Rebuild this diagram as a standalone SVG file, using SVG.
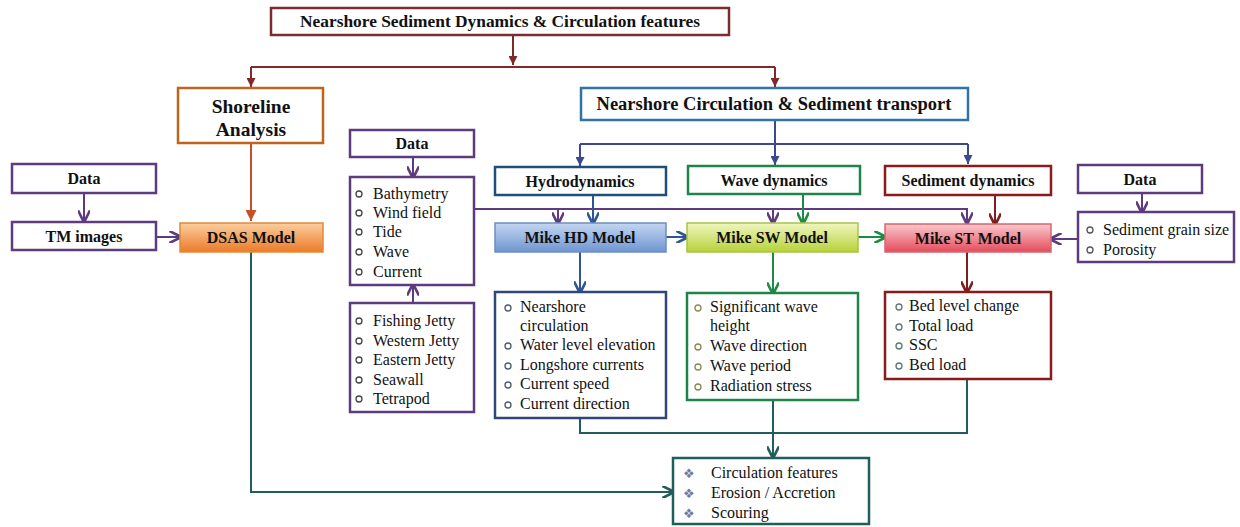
<svg xmlns="http://www.w3.org/2000/svg" width="1240" height="527" viewBox="0 0 1240 527">
<style>
.t{font-family:"Liberation Serif","Times New Roman",serif;font-weight:bold;font-size:16px;fill:#111;text-anchor:middle}
.li{font-family:"Liberation Serif","Times New Roman",serif;font-size:16px;fill:#111}
.b{fill:none;stroke-width:1.3}
.box{fill:#fff;stroke-width:2.5}
.c{fill:none;stroke-width:2}
.dia{font-family:"DejaVu Sans",sans-serif;font-size:13px;fill:#6A7BA8}
</style>
<defs>
<linearGradient id="gHD" x1="0" y1="0" x2="0" y2="1"><stop offset="0" stop-color="#C4D6F0"/><stop offset="1" stop-color="#6E96D2"/></linearGradient>
<linearGradient id="gSW" x1="0" y1="0" x2="0" y2="1"><stop offset="0" stop-color="#F0F6C0"/><stop offset="1" stop-color="#B6D23A"/></linearGradient>
<linearGradient id="gST" x1="0" y1="0" x2="0" y2="1"><stop offset="0" stop-color="#FBC8CC"/><stop offset="1" stop-color="#E44C5C"/></linearGradient>
<linearGradient id="gDS" x1="0" y1="0" x2="0" y2="1"><stop offset="0" stop-color="#FCCFA0"/><stop offset="1" stop-color="#EC7A28"/></linearGradient>
<marker id="aM" viewBox="0 0 10 10" refX="10" refY="5" markerWidth="9" markerHeight="9" markerUnits="userSpaceOnUse" orient="auto"><path d="M0,0L10,5L0,10z" fill="#7F2A2A"/></marker>
<marker id="aO" viewBox="0 0 10 10" refX="10" refY="5" markerWidth="11" markerHeight="11" markerUnits="userSpaceOnUse" orient="auto"><path d="M0,0L10,5L0,10z" fill="#C4502A"/></marker>
<marker id="aN" viewBox="0 0 10 10" refX="10" refY="5" markerWidth="9" markerHeight="9" markerUnits="userSpaceOnUse" orient="auto"><path d="M0,0L10,5L0,10z" fill="#3B4A8C"/></marker>
<marker id="aB" viewBox="0 0 10 10" refX="8" refY="5" markerWidth="12" markerHeight="12" markerUnits="userSpaceOnUse" orient="auto"><path d="M0,0L10,5L0,10" fill="none" stroke="#2F5597" stroke-width="2.2"/></marker>
<marker id="aG" viewBox="0 0 10 10" refX="8" refY="5" markerWidth="12" markerHeight="12" markerUnits="userSpaceOnUse" orient="auto"><path d="M0,0L10,5L0,10" fill="none" stroke="#1F8A45" stroke-width="2.2"/></marker>
<marker id="aR" viewBox="0 0 10 10" refX="8" refY="5" markerWidth="12" markerHeight="12" markerUnits="userSpaceOnUse" orient="auto"><path d="M0,0L10,5L0,10" fill="none" stroke="#7F1E1E" stroke-width="2.2"/></marker>
<marker id="aP" viewBox="0 0 10 10" refX="8" refY="5" markerWidth="12" markerHeight="12" markerUnits="userSpaceOnUse" orient="auto"><path d="M0,0L10,5L0,10" fill="none" stroke="#5E3B7E" stroke-width="2.2"/></marker>
<marker id="aT" viewBox="0 0 10 10" refX="8" refY="5" markerWidth="12" markerHeight="12" markerUnits="userSpaceOnUse" orient="auto"><path d="M0,0L10,5L0,10" fill="none" stroke="#1F5E5A" stroke-width="2.2"/></marker>
</defs>

<g id="connectors">
<path class="c" d="M513,35V65" stroke="#7F2A2A" marker-end="url(#aM)"/>
<path class="c" d="M251,67H775" stroke="#7F2A2A"/>
<path class="c" d="M251,67V87" stroke="#7F2A2A" marker-end="url(#aM)"/>
<path class="c" d="M775,67V87" stroke="#7F2A2A" marker-end="url(#aM)"/>
<path class="c" d="M251,143V221" stroke="#C4502A" marker-end="url(#aO)"/>
<path class="c" d="M84,193V220" stroke="#5E3B7E" marker-end="url(#aP)"/>
<path class="c" d="M156,237H179" stroke="#5E3B7E" marker-end="url(#aP)"/>
<path class="c" d="M775,120V144" stroke="#3B4A8C"/>
<path class="c" d="M580,144H968" stroke="#3B4A8C"/>
<path class="c" d="M580,144V166" stroke="#3B4A8C" marker-end="url(#aN)"/>
<path class="c" d="M775,144V165" stroke="#3B4A8C" marker-end="url(#aN)"/>
<path class="c" d="M968,144V164" stroke="#3B4A8C" marker-end="url(#aN)"/>
<path class="c" d="M413,157V176" stroke="#5E3B7E" marker-end="url(#aP)"/>
<path class="c" d="M413,303V286" stroke="#5E3B7E" marker-end="url(#aP)"/>
<path class="c" d="M474,209H967V222" stroke="#5E3B7E" marker-end="url(#aP)"/>
<path class="c" d="M558,209V222" stroke="#5E3B7E" marker-end="url(#aP)"/>
<path class="c" d="M773,209V222" stroke="#5E3B7E" marker-end="url(#aP)"/>
<path class="c" d="M593,195V222" stroke="#2F5597" marker-end="url(#aB)"/>
<path class="c" d="M803,194V222" stroke="#1F8A45" marker-end="url(#aG)"/>
<path class="c" d="M995,195V223" stroke="#7F1E1E" marker-end="url(#aR)"/>
<path class="c" d="M666,237H686" stroke="#2F5597" marker-end="url(#aB)"/>
<path class="c" d="M858,237H884" stroke="#1F8A45" marker-end="url(#aG)"/>
<path class="c" d="M1142,193V211" stroke="#5E3B7E" marker-end="url(#aP)"/>
<path class="c" d="M1078,239H1052" stroke="#5E3B7E" marker-end="url(#aP)"/>
<path class="c" d="M580,252V291" stroke="#2F5597" marker-end="url(#aB)"/>
<path class="c" d="M773,252V292" stroke="#1F8A45" marker-end="url(#aG)"/>
<path class="c" d="M967,252V291" stroke="#7F1E1E" marker-end="url(#aR)"/>
<path class="c" d="M580,418V433H967V379" stroke="#1F5E5A"/>
<path class="c" d="M773,400V456" stroke="#1F5E5A" marker-end="url(#aT)"/>
<path class="c" d="M251,252V492H672" stroke="#1F5E5A" marker-end="url(#aT)"/>
</g>

<g id="n_top"><rect class="box" x="271" y="8" width="458" height="27" stroke="#7B2C2C"/><text class="t" x="500" y="27" style="font-size:17px" textLength="400" lengthAdjust="spacingAndGlyphs">Nearshore Sediment Dynamics &amp; Circulation features</text></g>
<g id="n_shore"><rect class="box" x="178" y="88" width="145" height="55" stroke="#C0631C" stroke-width="3"/><text class="t" x="251" y="113" style="font-size:19.5px">Shoreline</text><text class="t" x="251" y="136" style="font-size:19.5px">Analysis</text></g>
<g id="n_circ"><rect class="box" x="581" y="88" width="387" height="32" stroke="#2E75A6"/><text class="t" x="774" y="110" style="font-size:18.5px">Nearshore Circulation &amp; Sediment transport</text></g>

<g id="n_data1"><rect class="box" x="12" y="164" width="144" height="29" stroke="#5E3B7E"/><text class="t" x="84" y="184">Data</text></g>
<g id="n_tm"><rect class="box" x="12" y="222" width="144" height="28" stroke="#5E3B7E"/><text class="t" x="84" y="242">TM images</text></g>
<g id="n_dsas"><rect x="180" y="223" width="143" height="29" fill="url(#gDS)" stroke="#E08A3A" stroke-width="1.5"/><text class="t" x="251" y="243">DSAS Model</text></g>

<g id="n_data2"><rect class="box" x="350" y="130" width="124" height="27" stroke="#5E3B7E"/><text class="t" x="412" y="149">Data</text></g>
<g id="n_inputs"><rect class="box" x="350" y="177" width="124" height="108" stroke="#5E3B7E"/>
<g class="b" stroke="#444"><circle cx="359" cy="194" r="3"/><circle cx="359" cy="213" r="3"/><circle cx="359" cy="232" r="3"/><circle cx="359" cy="252" r="3"/><circle cx="359" cy="272" r="3"/></g>
<text class="li" x="373" y="199">Bathymetry</text><text class="li" x="373" y="218">Wind field</text><text class="li" x="373" y="237">Tide</text><text class="li" x="373" y="257">Wave</text><text class="li" x="373" y="277">Current</text></g>
<g id="n_struct"><rect class="box" x="350" y="303" width="124" height="109" stroke="#5E3B7E"/>
<g class="b" stroke="#444"><circle cx="359" cy="321" r="3"/><circle cx="359" cy="341" r="3"/><circle cx="359" cy="360" r="3"/><circle cx="359" cy="380" r="3"/><circle cx="359" cy="399" r="3"/></g>
<text class="li" x="373" y="326">Fishing Jetty</text><text class="li" x="373" y="346">Western Jetty</text><text class="li" x="373" y="365">Eastern Jetty</text><text class="li" x="373" y="385">Seawall</text><text class="li" x="373" y="404">Tetrapod</text></g>

<g id="n_hydro"><rect class="box" x="495" y="167" width="171" height="28" stroke="#1F4E79"/><text class="t" x="580" y="187">Hydrodynamics</text></g>
<g id="n_wave"><rect class="box" x="688" y="166" width="172" height="28" stroke="#1E8449"/><text class="t" x="774" y="186">Wave dynamics</text></g>
<g id="n_sed"><rect class="box" x="885" y="166" width="166" height="29" stroke="#8B1A1A"/><text class="t" x="968" y="186">Sediment dynamics</text></g>
<g id="n_data3"><rect class="box" x="1078" y="165" width="124" height="28" stroke="#5E3B7E"/><text class="t" x="1140" y="185">Data</text></g>
<g id="n_sedin"><rect class="box" x="1078" y="212" width="156" height="50" stroke="#5E3B7E"/>
<g class="b" stroke="#555"><circle cx="1090" cy="230" r="3"/><circle cx="1090" cy="250" r="3"/></g>
<text class="li" x="1103" y="235">Sediment grain size</text><text class="li" x="1103" y="255">Porosity</text></g>

<g id="n_hd"><rect x="495" y="223" width="171" height="29" fill="url(#gHD)" stroke="#6C8EC0" stroke-width="1.5"/><text class="t" x="580" y="243">Mike HD Model</text></g>
<g id="n_sw"><rect x="687" y="223" width="171" height="29" fill="url(#gSW)" stroke="#A8C44A" stroke-width="1.5"/><text class="t" x="772" y="243">Mike SW Model</text></g>
<g id="n_st"><rect x="885" y="224" width="166" height="28" fill="url(#gST)" stroke="#D06870" stroke-width="1.5"/><text class="t" x="968" y="244">Mike ST Model</text></g>

<g id="n_hdout"><rect class="box" x="495" y="292" width="171" height="126" stroke="#2F4677"/>
<g class="b" stroke="#4A5A6A"><circle cx="508" cy="308" r="3"/><circle cx="508" cy="346" r="3"/><circle cx="508" cy="366" r="3"/><circle cx="508" cy="385" r="3"/><circle cx="508" cy="405" r="3"/></g>
<text class="li" x="520" y="312">Nearshore</text><text class="li" x="520" y="331">circulation</text><text class="li" x="520" y="350">Water level elevation</text><text class="li" x="520" y="370">Longshore currents</text><text class="li" x="520" y="389">Current speed</text><text class="li" x="520" y="409">Current direction</text></g>
<g id="n_swout"><rect class="box" x="687" y="293" width="171" height="107" stroke="#1E8449"/>
<g class="b" stroke="#8A8A50"><circle cx="698" cy="308" r="3"/><circle cx="698" cy="347" r="3"/><circle cx="698" cy="367" r="3"/><circle cx="698" cy="387" r="3"/></g>
<text class="li" x="710" y="312">Significant wave</text><text class="li" x="710" y="331">height</text><text class="li" x="710" y="351">Wave direction</text><text class="li" x="710" y="371">Wave period</text><text class="li" x="710" y="391">Radiation stress</text></g>
<g id="n_stout"><rect class="box" x="885" y="292" width="166" height="87" stroke="#8B1A1A"/>
<g class="b" stroke="#5A7A7A"><circle cx="899" cy="307" r="3"/><circle cx="899" cy="327" r="3"/><circle cx="899" cy="346" r="3"/><circle cx="899" cy="366" r="3"/></g>
<text class="li" x="909" y="311">Bed level change</text><text class="li" x="909" y="331">Total load</text><text class="li" x="909" y="350">SSC</text><text class="li" x="909" y="370">Bed load</text></g>

<g id="n_result"><rect class="box" x="673" y="458" width="196" height="66" stroke="#1F5F5A"/>
<text class="dia" x="683" y="478">❖</text><text class="dia" x="683" y="498">❖</text><text class="dia" x="683" y="518">❖</text>
<text class="li" x="711" y="478">Circulation features</text><text class="li" x="711" y="498">Erosion / Accretion</text><text class="li" x="711" y="518">Scouring</text></g>
</svg>
